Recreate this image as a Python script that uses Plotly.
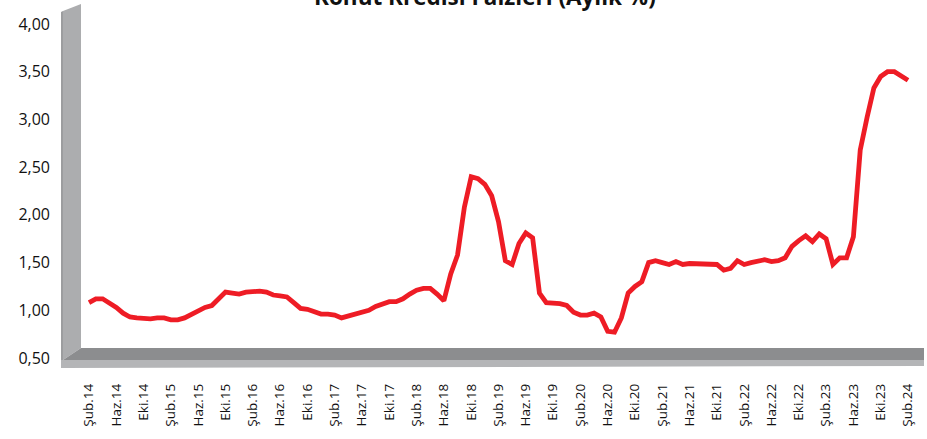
import plotly.graph_objects as go

month_names = ["Oca", "Şub", "Mar", "Nis", "May", "Haz", "Tem", "Ağu", "Eyl", "Eki", "Kas", "Ara"]
# monthly categories Feb 2014 .. Feb 2024
categories = [f"{month_names[(1 + i) % 12]}.{14 + (1 + i) // 12}" for i in range(121)]

rates = [
    1.08, 1.12, 1.12, 1.08, 1.03, 0.97, 0.93, 0.92, 0.91, 0.91, 0.92,
    0.92, 0.90, 0.90, 0.92, 0.96, 1.00, 1.03, 1.05, 1.12, 1.19, 1.18, 1.17,
    1.19, 1.20, 1.20, 1.19, 1.16, 1.15, 1.14, 1.08, 1.02, 1.01, 0.99, 0.96,
    0.96, 0.95, 0.92, 0.94, 0.96, 0.98, 1.00, 1.04, 1.07, 1.09, 1.09, 1.12,
    1.17, 1.21, 1.23, 1.23, 1.17, 1.10, 1.38, 1.58, 2.08, 2.40, 2.38, 2.32,
    2.20, 1.93, 1.52, 1.48, 1.70, 1.81, 1.76, 1.18, 1.08, 1.08, 1.07, 1.05,
    0.98, 0.95, 0.95, 0.97, 0.93, 0.78, 0.77, 0.92, 1.18, 1.25, 1.30, 1.50,
    1.52, 1.50, 1.48, 1.51, 1.48, 1.49, 1.49, 1.49, 1.49, 1.48, 1.42, 1.44,
    1.52, 1.48, 1.50, 1.52, 1.53, 1.51, 1.52, 1.55, 1.67, 1.73, 1.78, 1.72,
    1.80, 1.75, 1.48, 1.55, 1.55, 1.77, 2.68, 3.02, 3.33, 3.45, 3.50, 3.50,
    3.46, 3.41,
]

tick_labels = categories[::4]
y_ticks = [0.5, 1.0, 1.5, 2.0, 2.5, 3.0, 3.5, 4.0]
title_text = "Konut Kredisi Faizleri (Aylık %)"

W, H = 927, 439
L, R, T, B = 81, 3, 24, 81
PW, PH = W - L - R, H - T - B


def px(x):
    return (x - L) / PW


def py(y):
    return 1 - (y - T) / PH


def poly(points):
    return "M " + " L ".join(f"{px(a):.5f},{py(b):.5f}" for a, b in points) + " Z"


fig = go.Figure()
fig.add_trace(go.Scatter(
    x=categories, y=rates, mode="lines",
    line=dict(color="#ee1c25", width=4.8),
    hoverinfo="x+y", showlegend=False,
))

shapes = [
    # wall left edge
    dict(type="path", path=poly([(61, 12), (63, 11), (63, 367), (61, 368)]),
         fillcolor="#9c9d9f", line=dict(width=0)),
    # wall face
    dict(type="path", path=poly([(63, 11), (81, 4), (81, 348), (63, 360)]),
         fillcolor="#acadaf", line=dict(width=0)),
    # floor top
    dict(type="path", path=poly([(81, 348), (924, 348), (924, 360), (63, 360)]),
         fillcolor="#8c8d8f", line=dict(width=0)),
    # floor front
    dict(type="path", path=poly([(61, 360), (924, 360), (924, 366), (61, 368)]),
         fillcolor="#b4b5b7", line=dict(width=0)),
]
for s in shapes:
    s.update(xref="paper", yref="paper", layer="below")

fig.update_layout(
    width=W, height=H,
    margin=dict(l=L, r=R, t=T, b=B),
    paper_bgcolor="white", plot_bgcolor="rgba(0,0,0,0)",
    separators=",.",
    shapes=shapes,
    font=dict(family="Open Sans, Noto Sans, sans-serif", color="#111111"),
    annotations=[dict(
        text=f"<b>{title_text}</b>", xref="paper", yref="paper",
        x=px(485), y=py(-3), xanchor="center", yanchor="middle",
        showarrow=False, font=dict(size=22.5, color="#111111"),
    )],
)
fig.update_xaxes(
    type="category", range=[(81 - 89) / 6.825, (924 - 89) / 6.825],
    tickmode="array", tickvals=tick_labels, ticktext=tick_labels,
    tickangle=-90, tickfont=dict(size=13.5), ticklabelstandoff=22,
    showgrid=False, zeroline=False, showline=False, ticks="",
)
fig.update_yaxes(
    range=[0.5, 4.0], tickmode="array", tickvals=y_ticks, tickformat=".2f",
    tickfont=dict(size=16), ticklabelstandoff=30,
    showgrid=False, zeroline=False, showline=False, ticks="",
)

fig.write_html(
    "out.html",
    config={"displayModeBar": False},
    post_script="document.body.style.margin='0';document.body.style.overflow='hidden';",
)
